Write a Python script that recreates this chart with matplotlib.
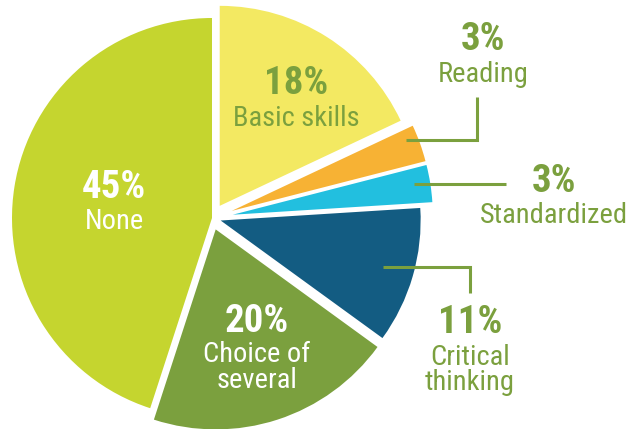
import matplotlib
matplotlib.use("Agg")
import matplotlib.pyplot as plt
from matplotlib import font_manager

# Share of each assessment type (percent), clockwise from 12 o'clock
categories = ["Basic skills", "Reading", "Standardized", "Critical\nthinking",
              "Choice of\nseveral", "None"]
values = [18, 3, 3, 11, 20, 45]
colors = ["#F3E962", "#F7B234", "#22BFDF", "#135C82", "#7BA03E", "#C5D52F"]
explode = [0.072, 0.105, 0.105, 0.045, 0.06, 0.0]

LABEL_GREEN = "#7BA03E"

# Prefer a narrow sans face when one is installed
_entries = font_manager.fontManager.ttflist
_names = {f.name for f in _entries}
FONT, STRETCH = ["DejaVu Sans"], "normal"
for cand in ["Roboto Condensed", "Liberation Sans Narrow", "Open Sans Condensed",
             "Noto Sans Condensed"]:
    if cand in _names:
        FONT = [cand, "DejaVu Sans"]
        break
else:
    if any(f.name == "DejaVu Sans" and f.stretch == "condensed" for f in _entries):
        STRETCH = "condensed"

PCT_SIZE = 28
NAME_SIZE = 20.5

W, H, DPI = 629, 429, 100
fig = plt.figure(figsize=(W / DPI, H / DPI), dpi=DPI)
ax = fig.add_axes([0, 0, 1, 1])

ax.pie(values, colors=colors, explode=explode, startangle=90,
       counterclock=False, radius=1.0,
       wedgeprops=dict(linewidth=0))

# One data unit equals 200 px; pie centre sits at (212, 218) px from top-left
ax.set_xlim(-1.06, 2.085)
ax.set_ylim(-1.055, 1.09)
ax.set_aspect("equal")
ax.axis("off")


def label(x, y, pct, name, pct_color, name_color, gap=0.165, line=0.13):
    ax.text(x, y, f"{pct}%", ha="center", va="baseline", color=pct_color,
            fontsize=PCT_SIZE, fontweight="bold", family=FONT, fontstretch=STRETCH)
    for i, part in enumerate(name.split("\n")):
        ax.text(x, y - gap - i * line, part, ha="center", va="baseline",
                color=name_color, fontsize=NAME_SIZE, family=FONT,
                fontstretch=STRETCH)


# Labels drawn inside their wedges
label(0.42, 0.62, values[0], categories[0], LABEL_GREEN, LABEL_GREEN, gap=0.16)
label(-0.49, 0.10, values[5], categories[5], "white", "white", gap=0.155)
label(0.225, -0.57, values[4], categories[4], "white", "white", gap=0.15, line=0.13)

# Labels placed outside, joined by leader lines
label(1.355, 0.84, values[1], categories[1], LABEL_GREEN, LABEL_GREEN, gap=0.16)
label(1.712, 0.13, values[2], categories[2], LABEL_GREEN, LABEL_GREEN, gap=0.155)
label(1.29, -0.575, values[3], categories[3], LABEL_GREEN, LABEL_GREEN, gap=0.16, line=0.125)

lw = 2.2
ax.plot([0.97, 1.325, 1.325], [0.39, 0.39, 0.605], color=LABEL_GREEN, lw=lw,
        solid_capstyle="butt", solid_joinstyle="miter")
ax.plot([1.01, 1.47], [0.17, 0.17], color=LABEL_GREEN, lw=lw,
        solid_capstyle="butt")
ax.plot([0.855, 1.29, 1.29], [-0.245, -0.245, -0.375], color=LABEL_GREEN, lw=lw,
        solid_capstyle="butt", solid_joinstyle="miter")

fig.savefig("out.png", dpi=DPI, facecolor="white")
